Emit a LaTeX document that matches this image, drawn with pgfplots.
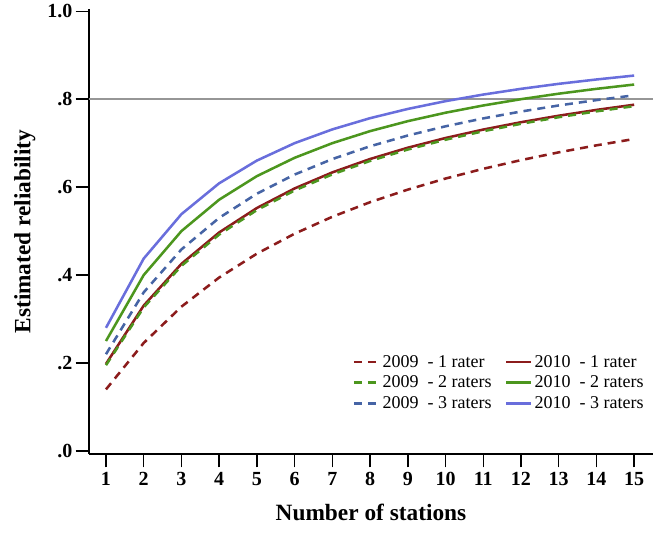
\documentclass[border=0pt]{standalone}
\usepackage{fontspec}
\setmainfont{Liberation Serif}
\usepackage{pgfplots}
\pgfplotsset{compat=1.18}
\definecolor{cred}{RGB}{140,28,28}
\definecolor{cgreen}{RGB}{76,150,30}
\definecolor{cbluedash}{RGB}{70,100,165}
\definecolor{cblue}{RGB}{105,110,220}
\definecolor{cgray}{RGB}{150,150,150}
\begin{document}
\begin{tikzpicture}
\path (0,0) rectangle (500.25pt,416.25pt);
\begin{axis}[
 at={(66.75pt,77.25pt)}, anchor=south west,
 scale only axis, width=423pt, height=333.75pt,
 xmin=0.55, xmax=15.5, ymin=-0.007, ymax=1.005,
 axis lines*=left, axis line style={line width=1.5pt},
 xtick={1,...,15}, ytick={0,0.2,0.4,0.6,0.8,1.0},
 yticklabels={.0,.2,.4,.6,.8,1.0},
 /pgf/number format/assume math mode=true,
 tick align=outside, tick style={black, line width=1.1pt},
 major tick length=10pt,
 ticklabel style={font=\fontsize{15}{15}\selectfont\bfseries},
 xticklabel style={yshift=0pt},
 yticklabel style={xshift=1pt},
 xlabel={Number of stations}, ylabel={Estimated reliability},
 label style={font=\fontsize{17.5}{17.5}\selectfont\bfseries},
 xlabel style={yshift=-7pt},
 ylabel style={yshift=2pt},
 legend columns=2,
 legend style={draw=none, fill=none, at={(0.46,0.235)}, anchor=north west,
   font=\fontsize{13.5}{14}\selectfont, row sep=1pt,
   /tikz/every even column/.append style={column sep=8pt}},
 legend cell align=left,
 legend image code/.code={\draw[#1] (0pt,0pt) -- (18.5pt,0pt);},
 every axis plot/.append style={line width=1.9pt},
]
\addplot[cgray, line width=1.2pt, forget plot] coordinates {(0.55,0.8) (15.5,0.8)};
% 2009 - 1 rater
\addplot[cred, dash pattern=on 6pt off 4.5pt] coordinates {
(1,0.1400) (2,0.2456) (3,0.3281) (4,0.3944) (5,0.4487) (6,0.4941) (7,0.5326) (8,0.5657)
(9,0.5943) (10,0.6195) (11,0.6417) (12,0.6614) (13,0.6791) (14,0.6950) (15,0.7095)};
\addlegendentry{2009\ \ - 1 rater}
% 2010 - 1 rater
\addplot[cred] coordinates {
(1,0.1980) (2,0.3306) (3,0.4255) (4,0.4969) (5,0.5525) (6,0.5970) (7,0.6335) (8,0.6639)
(9,0.6896) (10,0.7117) (11,0.7309) (12,0.7476) (13,0.7624) (14,0.7756) (15,0.7874)};
\addlegendentry{2010\ \ - 1 rater}
% 2009 - 2 raters
\addplot[cgreen, dash pattern=on 6pt off 4.5pt] coordinates {
(1,0.1950) (2,0.3264) (3,0.4209) (4,0.4921) (5,0.5478) (6,0.5924) (7,0.6290) (8,0.6596)
(9,0.6855) (10,0.7078) (11,0.7271) (12,0.7440) (13,0.7590) (14,0.7723) (15,0.7842)};
\addlegendentry{2009\ \ - 2 raters}
% 2010 - 2 raters
\addplot[cgreen] coordinates {
(1,0.2500) (2,0.4000) (3,0.5000) (4,0.5714) (5,0.6250) (6,0.6667) (7,0.7000) (8,0.7273)
(9,0.7500) (10,0.7692) (11,0.7857) (12,0.8000) (13,0.8125) (14,0.8235) (15,0.8333)};
\addlegendentry{2010\ \ - 2 raters}
% 2009 - 3 raters
\addplot[cbluedash, dash pattern=on 6pt off 4.5pt] coordinates {
(1,0.2200) (2,0.3607) (3,0.4583) (4,0.5301) (5,0.5851) (6,0.6286) (7,0.6638) (8,0.6929)
(9,0.7174) (10,0.7383) (11,0.7563) (12,0.7719) (13,0.7857) (14,0.7979) (15,0.8088)};
\addlegendentry{2009\ \ - 3 raters}
% 2010 - 3 raters
\addplot[cblue] coordinates {
(1,0.2800) (2,0.4375) (3,0.5385) (4,0.6087) (5,0.6604) (6,0.7000) (7,0.7313) (8,0.7568)
(9,0.7778) (10,0.7955) (11,0.8105) (12,0.8235) (13,0.8349) (14,0.8448) (15,0.8537)};
\addlegendentry{2010\ \ - 3 raters}
\end{axis}
\end{tikzpicture}
\end{document}
